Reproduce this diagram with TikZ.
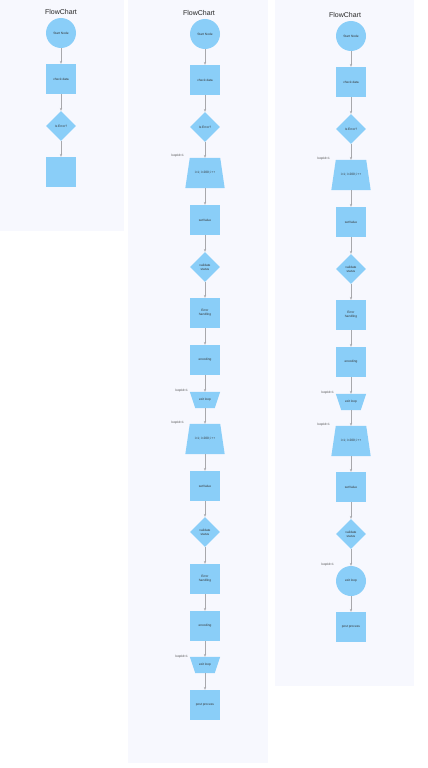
\documentclass[tikz,border=0pt]{standalone}
\usepackage{fontspec}
\setmainfont{Liberation Sans}
\usetikzlibrary{shapes.geometric,arrows.meta,backgrounds}
\definecolor{panelbg}{HTML}{F7F8FE}
\definecolor{nodefill}{HTML}{8ACEF8}
\definecolor{arrgray}{HTML}{A8A8AC}
\tikzset{
  base/.style={fill=nodefill,draw=none,inner sep=0pt,align=center,font=\fontsize{3.2}{3.8}\selectfont,text=black!80},
  startc/.style={base,circle,minimum size=30pt},
  box/.style={base,rectangle,minimum width=30pt,minimum height=30pt},
  dia/.style={base,diamond,minimum width=30pt,minimum height=30pt},
  loopbox/.style={base,fill=none,rectangle,minimum width=39pt,minimum height=30pt},
  exitbox/.style={base,fill=none,rectangle,minimum width=30pt,minimum height=16pt},
  lbl/.style={font=\fontsize{3.2}{3.8}\selectfont,text=black!70,inner sep=0pt},
  ttl/.style={font=\fontsize{7}{8}\selectfont,text=black!85,inner sep=0pt},
  arr/.style={draw=arrgray,line width=0.45pt,-{Stealth[length=2.8pt,width=2.2pt]}},
  panel/.style={fill=panelbg,draw=none}
}
% trapezoid fill behind a node: narrow top
\newcommand{\looptrap}[1]{\begin{scope}[on background layer]\fill[nodefill] ([xshift=4.5pt]#1.north west) -- ([xshift=-4.5pt]#1.north east) -- (#1.south east) -- (#1.south west) -- cycle;\end{scope}}
% inverted trapezoid: narrow bottom
\newcommand{\exittrap}[1]{\begin{scope}[on background layer]\fill[nodefill] (#1.north west) -- (#1.north east) -- ([xshift=-5.5pt]#1.south east) -- ([xshift=5.5pt]#1.south west) -- cycle;\end{scope}}
\begin{document}
\begin{tikzpicture}[x=1pt,y=-1pt]
\begin{scope}[on background layer]
\useasboundingbox[fill=white] (0,0) rectangle (428,768);
\path[panel] (0,0) rectangle (124,231);
\path[panel] (128,0) rectangle (268,763);
\path[panel] (275,0) rectangle (414,686);
\end{scope}

% ---------- panel 1
\node[ttl] (t1) at (61,12) {FlowChart};
\node[startc] (s1) at (61,33) {Start Node};
\node[box] (c1) at (61,79) {check data};
\node[dia] (d1) at (61,126) {Is Error?};
\node[box] (b1) at (61,172) {};
\draw[arr] (s1) -- (c1);
\draw[arr] (c1) -- (d1);
\draw[arr] (d1) -- (b1);

% ---------- panel 2
\node[ttl] (t2) at (199,13) {FlowChart};
\node[startc] (s2) at (205,34) {Start Node};
\node[box] (c2) at (205,80) {check data};
\node[dia] (d2) at (205,127) {Is Error?};
\node[loopbox] (tr2a) at (205,173) {i=1; i<200; i++};
\node[box] (v2a) at (205,220) {setValue};
\node[dia] (vs2a) at (205,267) {validate\\status};
\node[box] (e2a) at (205,313) {Error\\handling};
\node[box] (en2a) at (205,360) {encoding};
\node[exitbox] (x2a) at (205,400) {exit loop};
\node[loopbox] (tr2b) at (205,439) {i=1; i<200; i++};
\node[box] (v2b) at (205,486) {setValue};
\node[dia] (vs2b) at (205,532) {validate\\status};
\node[box] (e2b) at (205,579) {Error\\handling};
\node[box] (en2b) at (205,626) {encoding};
\node[exitbox] (x2b) at (205,665) {exit loop};
\node[box] (p2) at (205,705) {post process};
\looptrap{tr2a}\looptrap{tr2b}\exittrap{x2a}\exittrap{x2b}
\node[lbl,anchor=south east] (l2a) at (184,157) {loopId=1};
\node[lbl,anchor=south east] (l2b) at (188,392) {loopId=1};
\node[lbl,anchor=south east] (l2c) at (184,424) {loopId=1};
\node[lbl,anchor=south east] (l2d) at (188,658) {loopId=1};
\draw[arr] (s2) -- (c2);
\draw[arr] (c2) -- (d2);
\draw[arr] (d2) -- (tr2a);
\draw[arr] (tr2a) -- (v2a);
\draw[arr] (v2a) -- (vs2a);
\draw[arr] (vs2a) -- (e2a);
\draw[arr] (e2a) -- (en2a);
\draw[arr] (en2a) -- (x2a);
\draw[arr] (x2a) -- (tr2b);
\draw[arr] (tr2b) -- (v2b);
\draw[arr] (v2b) -- (vs2b);
\draw[arr] (vs2b) -- (e2b);
\draw[arr] (e2b) -- (en2b);
\draw[arr] (en2b) -- (x2b);
\draw[arr] (x2b) -- (p2);

% ---------- panel 3
\node[ttl] (t3) at (345,15) {FlowChart};
\node[startc] (s3) at (351,36) {Start Node};
\node[box] (c3) at (351,82) {check data};
\node[dia] (d3) at (351,129) {Is Error?};
\node[loopbox] (tr3a) at (351,175) {i=1; i<200; i++};
\node[box] (v3a) at (351,222) {setValue};
\node[dia] (vs3a) at (351,269) {validate\\status};
\node[box] (e3a) at (351,315) {Error\\handling};
\node[box] (en3a) at (351,362) {encoding};
\node[exitbox] (x3a) at (351,402) {exit loop};
\node[loopbox] (tr3b) at (351,441) {i=1; i<200; i++};
\node[box] (v3b) at (351,487) {setValue};
\node[dia] (vs3b) at (351,534) {validate\\status};
\node[startc] (ci3) at (351,581) {exit loop};
\node[box] (p3) at (351,627) {post process};
\looptrap{tr3a}\looptrap{tr3b}\exittrap{x3a}
\node[lbl,anchor=south east] (l3a) at (330,160) {loopId=1};
\node[lbl,anchor=south east] (l3b) at (334,394) {loopId=1};
\node[lbl,anchor=south east] (l3c) at (330,426) {loopId=1};
\node[lbl,anchor=south east] (l3d) at (334,566) {loopId=1};
\draw[arr] (s3) -- (c3);
\draw[arr] (c3) -- (d3);
\draw[arr] (d3) -- (tr3a);
\draw[arr] (tr3a) -- (v3a);
\draw[arr] (v3a) -- (vs3a);
\draw[arr] (vs3a) -- (e3a);
\draw[arr] (e3a) -- (en3a);
\draw[arr] (en3a) -- (x3a);
\draw[arr] (x3a) -- (tr3b);
\draw[arr] (tr3b) -- (v3b);
\draw[arr] (v3b) -- (vs3b);
\draw[arr] (vs3b) -- (ci3);
\draw[arr] (ci3) -- (p3);
\end{tikzpicture}
\end{document}
